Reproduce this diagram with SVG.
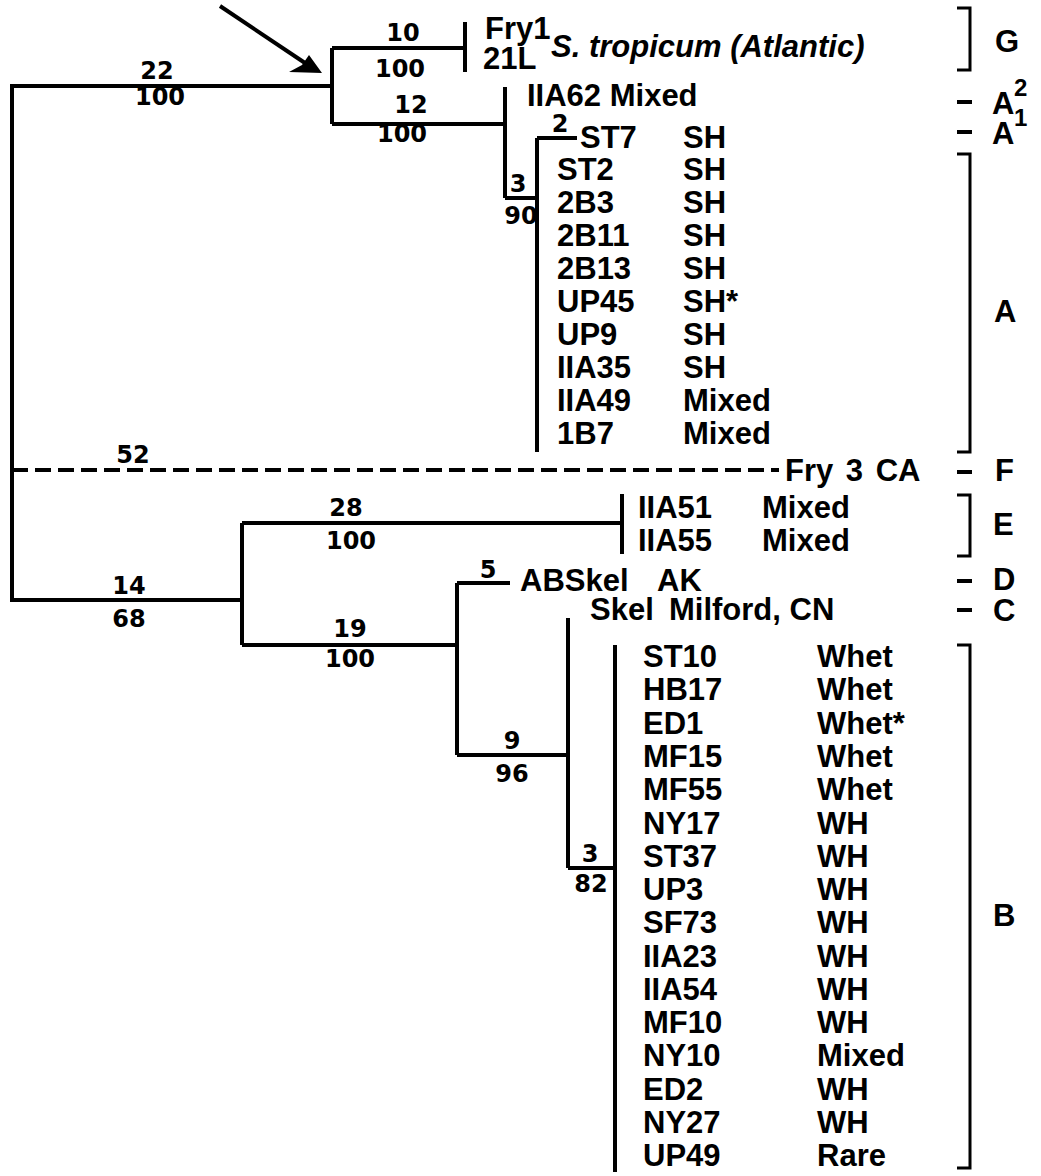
<svg xmlns="http://www.w3.org/2000/svg" width="1041" height="1176" viewBox="0 0 1041 1176">
<style>
text{font-family:"Liberation Sans",Arial,sans-serif;font-weight:bold;fill:#000}
.t{font-size:31px}
.b{font-family:"DejaVu Sans",sans-serif;font-size:24px;text-anchor:middle}
.s{font-size:24px}
.ln{stroke:#000;stroke-width:4;fill:none}
.br{stroke:#000;stroke-width:3;fill:none}
.d{stroke:#000;stroke-width:4;fill:none;stroke-dasharray:16 7}
</style>
<rect width="1041" height="1176" fill="#fff"/>
<g id="connectors">
<path class="ln" d="M12,84 V602 M12,86 H332 M332,48 V124 M332,48 H465 M465,22 V72 M332,124 H505 M505,87 V198 M505,198 H537 M537,138 V452 M537,138 H577"/>
<path class="d" d="M12,470 H779"/>
<path class="ln" d="M12,600 H242 M242,523 V645 M242,523 H622 M622,494 V554 M242,645 H457 M457,583 V755 M457,583 H510 M457,755 H568 M568,618 V868 M568,868 H615 M615,645 V1172"/>
<line x1="220" y1="6" x2="308" y2="65" stroke="#000" stroke-width="4"/>
<polygon points="322,73 289,72 302,65 309,55" fill="#000"/>
</g>
<g id="branch-labels">
<text class="b" x="157" y="79">22</text><text class="b" x="160" y="105">100</text>
<text class="b" x="403" y="41">10</text><text class="b" x="400" y="77">100</text>
<text class="b" x="411" y="113">12</text><text class="b" x="402" y="142">100</text>
<text class="b" x="560" y="132">2</text>
<text class="b" x="518" y="192">3</text><text class="b" x="521" y="224">90</text>
<text class="b" x="133" y="463">52</text>
<text class="b" x="346" y="516">28</text><text class="b" x="351" y="549">100</text>
<text class="b" x="129" y="594">14</text><text class="b" x="129" y="627">68</text>
<text class="b" x="350" y="637">19</text><text class="b" x="350" y="667">100</text>
<text class="b" x="488" y="578">5</text>
<text class="b" x="512" y="749">9</text><text class="b" x="512" y="782">96</text>
<text class="b" x="590" y="862">3</text><text class="b" x="591" y="892">82</text>
</g>
<g id="clade-G">
<text class="t" x="485" y="39">Fry1</text>
<text class="t" x="483" y="69">21L</text>
<text class="t" x="551" y="57" font-style="italic">S. tropicum (Atlantic)</text>
</g>
<g id="clade-A2"><text class="t" x="527" y="106">IIA62 Mixed</text></g>
<g id="clade-A1"><text class="t" x="580" y="148">ST7</text><text class="t" x="683" y="148">SH</text></g>
<g id="clade-A">
<text class="t" x="557" y="180">ST2</text><text class="t" x="683" y="180">SH</text>
<text class="t" x="557" y="213">2B3</text><text class="t" x="683" y="213">SH</text>
<text class="t" x="557" y="246">2B11</text><text class="t" x="683" y="246">SH</text>
<text class="t" x="557" y="279">2B13</text><text class="t" x="683" y="279">SH</text>
<text class="t" x="557" y="312">UP45</text><text class="t" x="683" y="312">SH*</text>
<text class="t" x="557" y="345">UP9</text><text class="t" x="683" y="345">SH</text>
<text class="t" x="557" y="378">IIA35</text><text class="t" x="683" y="378">SH</text>
<text class="t" x="557" y="411">IIA49</text><text class="t" x="683" y="411">Mixed</text>
<text class="t" x="557" y="444">1B7</text><text class="t" x="683" y="444">Mixed</text>
</g>
<g id="clade-F"><text class="t" x="785" y="481" word-spacing="4">Fry 3 CA</text></g>
<g id="clade-E">
<text class="t" x="638" y="518">IIA51</text><text class="t" x="762" y="518">Mixed</text>
<text class="t" x="638" y="551">IIA55</text><text class="t" x="762" y="551">Mixed</text>
</g>
<g id="clade-D"><text class="t" x="520" y="591">ABSkel</text><text class="t" x="657" y="591">AK</text></g>
<g id="clade-C"><text class="t" x="590" y="620">Skel</text><text class="t" x="669" y="620">Milford, CN</text></g>
<g id="clade-B">
<text class="t" x="643" y="667">ST10</text><text class="t" x="817" y="667">Whet</text>
<text class="t" x="643" y="700">HB17</text><text class="t" x="817" y="700">Whet</text>
<text class="t" x="643" y="734">ED1</text><text class="t" x="817" y="734">Whet*</text>
<text class="t" x="643" y="767">MF15</text><text class="t" x="817" y="767">Whet</text>
<text class="t" x="643" y="800">MF55</text><text class="t" x="817" y="800">Whet</text>
<text class="t" x="643" y="834">NY17</text><text class="t" x="817" y="834">WH</text>
<text class="t" x="643" y="867">ST37</text><text class="t" x="817" y="867">WH</text>
<text class="t" x="643" y="900">UP3</text><text class="t" x="817" y="900">WH</text>
<text class="t" x="643" y="933">SF73</text><text class="t" x="817" y="933">WH</text>
<text class="t" x="643" y="967">IIA23</text><text class="t" x="817" y="967">WH</text>
<text class="t" x="643" y="1000">IIA54</text><text class="t" x="817" y="1000">WH</text>
<text class="t" x="643" y="1033">MF10</text><text class="t" x="817" y="1033">WH</text>
<text class="t" x="643" y="1066">NY10</text><text class="t" x="817" y="1066">Mixed</text>
<text class="t" x="643" y="1100">ED2</text><text class="t" x="817" y="1100">WH</text>
<text class="t" x="643" y="1133">NY27</text><text class="t" x="817" y="1133">WH</text>
<text class="t" x="643" y="1166">UP49</text><text class="t" x="817" y="1166">Rare</text>
</g>
<g id="group-labels">
<path class="br" d="M957,8 H970 V70 H957 M957,154 H970 V452 H957 M957,495 H970 V556 H957 M957,645 H970 V1168 H957"/>
<path class="ln" d="M957,102 H972 M957,132 H972 M957,472 H972 M957,581 H972 M957,610 H972"/>
<text class="t" x="995" y="52">G</text>
<text class="t" x="992" y="114">A</text><text class="s" x="1014" y="96">2</text>
<text class="t" x="992" y="144">A</text><text class="s" x="1014" y="126">1</text>
<text class="t" x="994" y="322">A</text>
<text class="t" x="995" y="481">F</text>
<text class="t" x="993" y="535">E</text>
<text class="t" x="993" y="590">D</text>
<text class="t" x="993" y="621">C</text>
<text class="t" x="993" y="926">B</text>
</g>
</svg>
